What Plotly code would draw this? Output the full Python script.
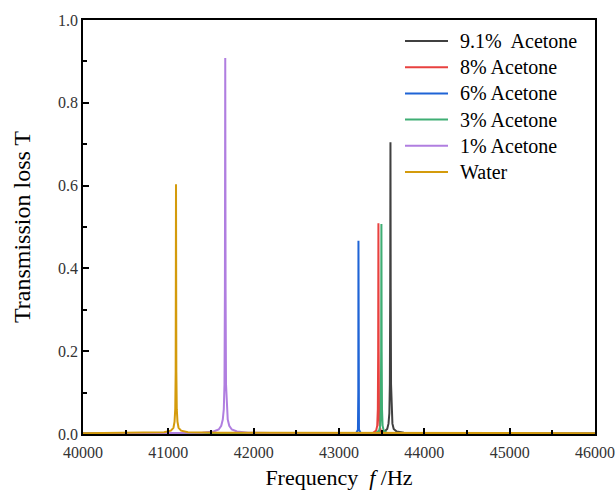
import plotly.graph_objects as go

# ---------------- data ----------------
names = ["9.1%  Acetone", "8% Acetone", "6% Acetone", "3% Acetone", "1% Acetone", "Water"]
colors = ["#404040", "#e8413f", "#1f64d6", "#3fae74", "#b07ee0", "#d49b0c"]

f_91 = [40000, 43000, 43450, 43530, 43565, 43580, 43590, 43596, 43600, 43603, 43606, 43610, 43616, 43626, 43641, 43676, 43760, 44200, 46000]
t_91 = [0.001, 0.001, 0.003, 0.006, 0.012, 0.025, 0.05, 0.12, 0.35, 0.705, 0.35, 0.12, 0.05, 0.025, 0.012, 0.006, 0.003, 0.001, 0.001]

f_8 = [40000, 43000, 43400, 43435, 43448, 43455, 43459, 43462, 43465, 43469, 43476, 43489, 43525, 43800, 46000]
t_8 = [0.001, 0.001, 0.003, 0.008, 0.02, 0.06, 0.2, 0.509, 0.2, 0.06, 0.02, 0.008, 0.003, 0.001, 0.001]

f_6 = [40000, 43000, 43200, 43222, 43226, 43228, 43230, 43234, 43256, 43500, 46000]
t_6 = [0.001, 0.001, 0.002, 0.01, 0.1, 0.467, 0.1, 0.01, 0.002, 0.001, 0.001]

f_3 = [40000, 43000, 43435, 43470, 43483, 43490, 43494, 43497, 43500, 43504, 43511, 43524, 43560, 43800, 46000]
t_3 = [0.001, 0.001, 0.003, 0.008, 0.02, 0.06, 0.2, 0.507, 0.2, 0.06, 0.02, 0.008, 0.003, 0.001, 0.001]

f_1 = [40000, 41000, 41400, 41530, 41590, 41620, 41638, 41650, 41658, 41663, 41667, 41671, 41676, 41684, 41696, 41714, 41744, 41804, 41934, 42400, 46000]
t_1 = [0.001, 0.002, 0.003, 0.006, 0.011, 0.02, 0.035, 0.06, 0.12, 0.35, 0.908, 0.35, 0.12, 0.06, 0.035, 0.02, 0.011, 0.006, 0.003, 0.002, 0.001]

f_w = [40000, 40600, 40950, 41030, 41060, 41073, 41081, 41086, 41090, 41094, 41099, 41107, 41120, 41150, 41230, 41600, 46000]
t_w = [0.002, 0.003, 0.004, 0.008, 0.015, 0.03, 0.06, 0.15, 0.603, 0.15, 0.06, 0.03, 0.015, 0.008, 0.004, 0.003, 0.002]

xs = [f_91, f_8, f_6, f_3, f_1, f_w]
ys = [t_91, t_8, t_6, t_3, t_1, t_w]

x_ticks = [40000, 41000, 42000, 43000, 44000, 45000, 46000]
y_ticks = [0.0, 0.2, 0.4, 0.6, 0.8, 1.0]

# ---------------- figure ----------------
W, H = 616, 490
ML, MR, MT, MB = 83, 21, 20, 56
PW, PH = W - ML - MR, H - MT - MB
font_family = "Liberation Serif"

fig = go.Figure()
for n, c, x, y in zip(names, colors, xs, ys):
    fig.add_trace(go.Scatter(x=x, y=y, mode="lines", name=n,
                             line=dict(color=c, width=2)))

# hand-placed legend (plotly's legend rows are taller than the reference's)
def px_x(p):
    return (p - ML) / PW

def px_y(p):
    return (H - MB - p) / PH

shapes, annotations = [], []
for i, (n, c) in enumerate(zip(names, colors)):
    yc = 41 + 26.2 * i
    shapes.append(dict(type="line", xref="paper", yref="paper",
                       x0=px_x(405), x1=px_x(448), y0=px_y(yc), y1=px_y(yc),
                       line=dict(color=c, width=2)))
    annotations.append(dict(text=n, xref="paper", yref="paper",
                            x=px_x(458), y=px_y(yc), xanchor="left", yanchor="middle",
                            showarrow=False,
                            font=dict(family=font_family, size=20, color="black")))

# last x tick label is drawn past the paper edge in the reference (clipped)
annotations.append(dict(text=str(x_ticks[-1]), xref="x", yref="paper",
                        x=x_ticks[-1], y=0, xanchor="center", yanchor="top",
                        yshift=-8, showarrow=False,
                        font=dict(family=font_family, size=16, color="#333333")))

fig.update_layout(
    width=W, height=H,
    margin=dict(l=ML, r=MR, t=MT, b=MB, autoexpand=False),
    plot_bgcolor="white", paper_bgcolor="white",
    font=dict(family=font_family, size=16, color="black"),
    showlegend=False,
    shapes=shapes, annotations=annotations,
)
fig.update_xaxes(
    range=[40000, 46000], tickvals=x_ticks[:-1],
    ticktext=[str(v) for v in x_ticks[:-1]],
    ticks="inside", ticklen=6, tickwidth=1.5, tickcolor="black",
    minor=dict(dtick=500, ticks="inside", ticklen=4, tickcolor="black"),
    showline=True, linecolor="black", linewidth=1.5, mirror=True,
    showgrid=False, zeroline=False, automargin=False,
    ticklabelstandoff=3,
    tickfont=dict(family=font_family, size=16, color="#333333"),
    title=dict(text="Frequency  <i>f</i> /Hz", font=dict(family=font_family, size=22), standoff=10),
)
fig.update_yaxes(
    range=[0, 1.0], tickvals=y_ticks,
    ticktext=["%.1f" % v for v in y_ticks],
    ticks="inside", ticklen=6, tickwidth=1.5, tickcolor="black",
    minor=dict(dtick=0.1, ticks="inside", ticklen=4, tickcolor="black"),
    showline=True, linecolor="black", linewidth=1.5, mirror=True,
    showgrid=False, zeroline=False, automargin=False,
    tickfont=dict(family=font_family, size=16, color="#333333"),
    title=dict(text="Transmission loss T", font=dict(family=font_family, size=24), standoff=21),
)

fig.write_html("out.html")
